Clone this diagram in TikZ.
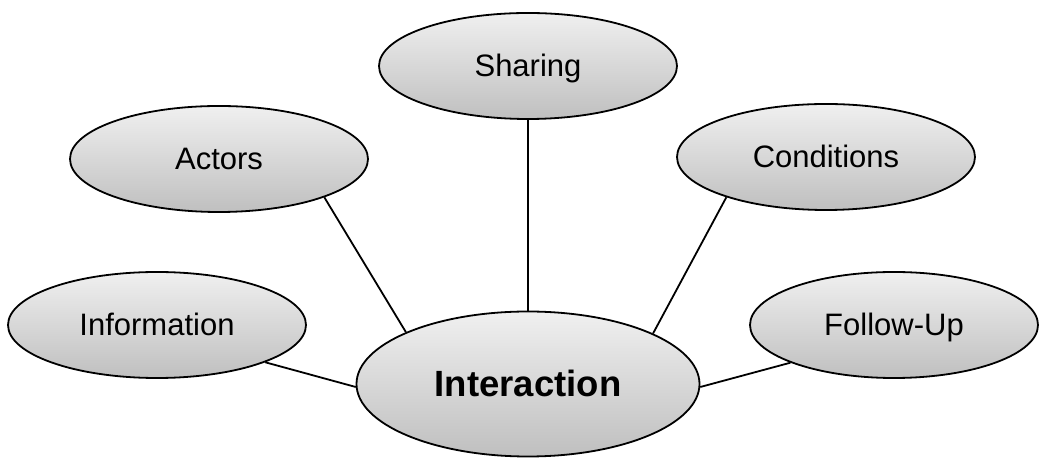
\documentclass[tikz,border=0pt]{standalone}
\usepackage{fontspec}
\setmainfont{Liberation Sans}
\usepackage{tikz}
\usetikzlibrary{shapes.geometric}
\tikzset{bubble/.style={ellipse,draw=black,line width=1.8pt,top color=black!6,bottom color=black!25,
  inner sep=0pt,minimum width=298pt,minimum height=106pt,text height=22pt,text depth=0pt,
  font=\fontsize{31}{37}\selectfont}}
\def\bubble{\node[bubble]}
\def\drawlink{\draw[line width=1.8pt]}

\begin{document}
\begin{tikzpicture}[x=1pt,y=1pt]
\useasboundingbox (0,0) rectangle (1039,460);
\bubble (share) at (528,394) {Sharing};
\bubble (act) at (219,301) {Actors};
\bubble (cond) at (826,303) {Conditions};
\bubble (info) at (157,135) {Information};
\bubble[minimum width=288pt] (follow) at (894,135) {Follow-Up};
\bubble[minimum width=343pt,minimum height=145pt,text height=26pt,font=\fontsize{36.5}{44}\selectfont\bfseries] (inter) at (528,76) {Interaction};
\drawlink (share.south) -- (inter.north);
\drawlink (act.-20.4) -- (inter.157.1);
\drawlink (cond.-158.5) -- (inter.22.9);
\drawlink (info.-19.2) -- (inter.181);
\drawlink (follow.200.6) -- (inter.-1);
\end{tikzpicture}
\end{document}
